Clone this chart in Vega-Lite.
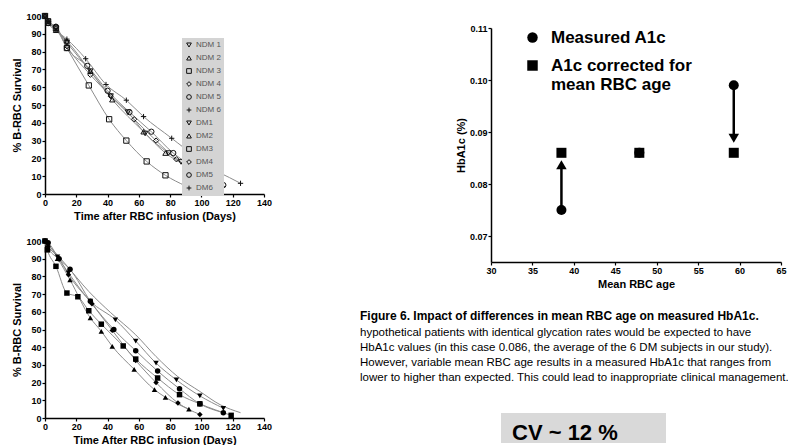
{
  "$schema": "https://vega.github.io/schema/vega-lite/v6.json",
  "background": "white",
  "padding": {"left": 11, "top": 11, "right": 0, "bottom": 0},
  "spacing": 88,
  "datasets": {
    "ndm": [
      {"series": "NDM 1", "day": 0, "survival": 100}, {"series": "NDM 1", "day": 2, "survival": 97}, {"series": "NDM 1", "day": 7, "survival": 93}, {"series": "NDM 1", "day": 14, "survival": 85}, {"series": "NDM 1", "day": 29, "survival": 69}, {"series": "NDM 1", "day": 42, "survival": 55}, {"series": "NDM 1", "day": 53, "survival": 46}, {"series": "NDM 1", "day": 64, "survival": 34}, {"series": "NDM 1", "day": 79, "survival": 23}, {"series": "NDM 1", "day": 87, "survival": 18}, {"series": "NDM 1", "day": 93, "survival": 14}, {"series": "NDM 1", "day": 100, "survival": 9}, {"series": "NDM 1", "day": 107, "survival": 6}, {"series": "NDM 1", "day": 113, "survival": 3},
      {"series": "NDM 2", "day": 0, "survival": 100}, {"series": "NDM 2", "day": 2, "survival": 96}, {"series": "NDM 2", "day": 7, "survival": 92}, {"series": "NDM 2", "day": 14, "survival": 86}, {"series": "NDM 2", "day": 29, "survival": 69}, {"series": "NDM 2", "day": 43, "survival": 53}, {"series": "NDM 2", "day": 63, "survival": 35}, {"series": "NDM 2", "day": 77, "survival": 23}, {"series": "NDM 2", "day": 90, "survival": 15.5}, {"series": "NDM 2", "day": 98, "survival": 9.5}, {"series": "NDM 2", "day": 106, "survival": 6}, {"series": "NDM 2", "day": 112, "survival": 4},
      {"series": "NDM 3", "day": 0, "survival": 100}, {"series": "NDM 3", "day": 2, "survival": 97}, {"series": "NDM 3", "day": 7, "survival": 93}, {"series": "NDM 3", "day": 14, "survival": 82}, {"series": "NDM 3", "day": 28, "survival": 61}, {"series": "NDM 3", "day": 41, "survival": 42}, {"series": "NDM 3", "day": 52, "survival": 30}, {"series": "NDM 3", "day": 65, "survival": 18.3}, {"series": "NDM 3", "day": 77, "survival": 10.5}, {"series": "NDM 3", "day": 90, "survival": 4.5},
      {"series": "NDM 4", "day": 0, "survival": 100}, {"series": "NDM 4", "day": 2, "survival": 97}, {"series": "NDM 4", "day": 7, "survival": 94}, {"series": "NDM 4", "day": 14, "survival": 83}, {"series": "NDM 4", "day": 29, "survival": 67}, {"series": "NDM 4", "day": 42, "survival": 55}, {"series": "NDM 4", "day": 57, "survival": 42}, {"series": "NDM 4", "day": 71, "survival": 30}, {"series": "NDM 4", "day": 84, "survival": 19.5}, {"series": "NDM 4", "day": 96, "survival": 13}, {"series": "NDM 4", "day": 104, "survival": 8.5}, {"series": "NDM 4", "day": 112, "survival": 5},
      {"series": "NDM 5", "day": 0, "survival": 100}, {"series": "NDM 5", "day": 2, "survival": 96}, {"series": "NDM 5", "day": 7, "survival": 94}, {"series": "NDM 5", "day": 14, "survival": 82}, {"series": "NDM 5", "day": 27, "survival": 72}, {"series": "NDM 5", "day": 40, "survival": 58}, {"series": "NDM 5", "day": 54, "survival": 46}, {"series": "NDM 5", "day": 68, "survival": 35}, {"series": "NDM 5", "day": 82, "survival": 23}, {"series": "NDM 5", "day": 95, "survival": 15}, {"series": "NDM 5", "day": 103, "survival": 10}, {"series": "NDM 5", "day": 110, "survival": 6}, {"series": "NDM 5", "day": 114, "survival": 5},
      {"series": "NDM 6", "day": 0, "survival": 100}, {"series": "NDM 6", "day": 2, "survival": 97}, {"series": "NDM 6", "day": 7, "survival": 92}, {"series": "NDM 6", "day": 14, "survival": 87}, {"series": "NDM 6", "day": 26, "survival": 76}, {"series": "NDM 6", "day": 39, "survival": 61.5}, {"series": "NDM 6", "day": 52, "survival": 52.7}, {"series": "NDM 6", "day": 63, "survival": 43.5}, {"series": "NDM 6", "day": 81, "survival": 31.3}, {"series": "NDM 6", "day": 95, "survival": 21.5}, {"series": "NDM 6", "day": 102.5, "survival": 15.5}, {"series": "NDM 6", "day": 111, "survival": 12.2}, {"series": "NDM 6", "day": 125, "survival": 6}
    ],
    "dm": [
      {"series": "DM1", "day": 0, "survival": 100}, {"series": "DM1", "day": 2, "survival": 98}, {"series": "DM1", "day": 8, "survival": 91}, {"series": "DM1", "day": 15, "survival": 82}, {"series": "DM1", "day": 29, "survival": 66}, {"series": "DM1", "day": 45, "survival": 55.5}, {"series": "DM1", "day": 58, "survival": 43.5}, {"series": "DM1", "day": 71, "survival": 31}, {"series": "DM1", "day": 84, "survival": 21.5}, {"series": "DM1", "day": 99, "survival": 12.5}, {"series": "DM1", "day": 114, "survival": 5.5},
      {"series": "DM2", "day": 0, "survival": 100}, {"series": "DM2", "day": 2, "survival": 96}, {"series": "DM2", "day": 8, "survival": 90}, {"series": "DM2", "day": 16, "survival": 78}, {"series": "DM2", "day": 29, "survival": 56.5}, {"series": "DM2", "day": 36, "survival": 49}, {"series": "DM2", "day": 43, "survival": 40.5}, {"series": "DM2", "day": 57, "survival": 27.5}, {"series": "DM2", "day": 70, "survival": 16}, {"series": "DM2", "day": 77, "survival": 11.7}, {"series": "DM2", "day": 92, "survival": 5},
      {"series": "DM3", "day": 0, "survival": 100}, {"series": "DM3", "day": 1.5, "survival": 95}, {"series": "DM3", "day": 7, "survival": 85.7}, {"series": "DM3", "day": 14, "survival": 70.6}, {"series": "DM3", "day": 21, "survival": 68.5}, {"series": "DM3", "day": 28, "survival": 60.6}, {"series": "DM3", "day": 36, "survival": 53}, {"series": "DM3", "day": 50, "survival": 40.7}, {"series": "DM3", "day": 58, "survival": 33.3}, {"series": "DM3", "day": 72, "survival": 22.6}, {"series": "DM3", "day": 86, "survival": 13.2}, {"series": "DM3", "day": 99, "survival": 8}, {"series": "DM3", "day": 119, "survival": 1.5},
      {"series": "DM4", "day": 0, "survival": 100}, {"series": "DM4", "day": 2, "survival": 97}, {"series": "DM4", "day": 9, "survival": 90}, {"series": "DM4", "day": 15, "survival": 81}, {"series": "DM4", "day": 30, "survival": 64.5}, {"series": "DM4", "day": 43, "survival": 49.5}, {"series": "DM4", "day": 58, "survival": 32.5}, {"series": "DM4", "day": 71, "survival": 20}, {"series": "DM4", "day": 85, "survival": 8.5}, {"series": "DM4", "day": 99, "survival": 2},
      {"series": "DM5", "day": 0, "survival": 100}, {"series": "DM5", "day": 2, "survival": 99}, {"series": "DM5", "day": 9, "survival": 90}, {"series": "DM5", "day": 16, "survival": 84}, {"series": "DM5", "day": 29, "survival": 66}, {"series": "DM5", "day": 44, "survival": 50}, {"series": "DM5", "day": 58, "survival": 38}, {"series": "DM5", "day": 72, "survival": 26.5}, {"series": "DM5", "day": 86, "survival": 16.5}, {"series": "DM5", "day": 99, "survival": 8}, {"series": "DM5", "day": 114, "survival": 3},
      {"series": "DM6", "day": 0, "survival": 100}, {"series": "DM6", "day": 2, "survival": 98}, {"series": "DM6", "day": 13, "survival": 87}, {"series": "DM6", "day": 28, "survival": 71.5}, {"series": "DM6", "day": 42, "survival": 59.5}, {"series": "DM6", "day": 58, "survival": 47}, {"series": "DM6", "day": 71, "survival": 34.7}, {"series": "DM6", "day": 85, "survival": 23.3}, {"series": "DM6", "day": 99, "survival": 15}, {"series": "DM6", "day": 112, "survival": 7.5}, {"series": "DM6", "day": 125, "survival": 3}
    ],
    "hba1c": [
      {"age": 38.5, "hba1c": 0.086, "type": "A1c corrected for mean RBC age"},
      {"age": 47.9, "hba1c": 0.086, "type": "A1c corrected for mean RBC age"},
      {"age": 59.3, "hba1c": 0.086, "type": "A1c corrected for mean RBC age"},
      {"age": 38.5, "hba1c": 0.075, "type": "Measured A1c"},
      {"age": 47.9, "hba1c": 0.086, "type": "Measured A1c"},
      {"age": 59.3, "hba1c": 0.099, "type": "Measured A1c"}
    ],
    "arrows": [
      {"age": 38.5, "start": 0.075, "end": 0.0837, "direction": "up"},
      {"age": 59.3, "start": 0.099, "end": 0.0888, "direction": "down"}
    ]
  },
  "hconcat": [
    {
      "vconcat": [
        {
          "width": 219,
          "height": 178,
          "data": {"name": "ndm"},
          "encoding": {
            "x": {"field": "day", "type": "quantitative", "scale": {"domain": [0, 140], "nice": false}, "axis": {"title": "Time after RBC infusion (Days)", "values": [0, 20, 40, 60, 80, 100, 120, 140]}},
            "y": {"field": "survival", "type": "quantitative", "scale": {"domain": [0, 100], "nice": false}, "axis": {"title": "% B-RBC Survival", "values": [0, 10, 20, 30, 40, 50, 60, 70, 80, 90, 100]}}
          },
          "layer": [
            {"mark": {"type": "line", "color": "#8c8c8c", "strokeWidth": 1, "interpolate": "monotone"}, "encoding": {"detail": {"field": "series", "type": "nominal"}}},
            {
              "mark": {"type": "point", "filled": false, "color": "#111111", "strokeWidth": 1, "size": 28, "opacity": 1},
              "encoding": {
                "shape": {
                  "field": "series", "type": "nominal",
                  "scale": {"domain": ["NDM 1", "NDM 2", "NDM 3", "NDM 4", "NDM 5", "NDM 6"], "range": ["triangle-down", "triangle-up", "square", "diamond", "circle", "M-1,0H1M0,-1V1"]},
                  "legend": {"orient": "none", "legendX": 137, "legendY": 22, "title": null, "fillColor": "#d4d4d4", "padding": 3, "symbolSize": 22, "symbolStrokeWidth": 1, "labelFontSize": 8, "labelFont": "Liberation Sans", "labelFontWeight": "normal", "labelColor": "#555555", "rowPadding": 3, "labelOffset": 3}
                }
              }
            }
          ]
        },
        {
          "width": 219,
          "height": 177,
          "data": {"name": "dm"},
          "encoding": {
            "x": {"field": "day", "type": "quantitative", "scale": {"domain": [0, 140], "nice": false}, "axis": {"title": "Time After RBC infusion (Days)", "values": [0, 20, 40, 60, 80, 100, 120, 140]}},
            "y": {"field": "survival", "type": "quantitative", "scale": {"domain": [0, 100], "nice": false}, "axis": {"title": "% B-RBC Survival", "values": [0, 10, 20, 30, 40, 50, 60, 70, 80, 90, 100]}}
          },
          "layer": [
            {"mark": {"type": "line", "color": "#8c8c8c", "strokeWidth": 1, "interpolate": "monotone"}, "encoding": {"detail": {"field": "series", "type": "nominal"}}},
            {
              "mark": {"type": "point", "filled": true, "color": "#000000", "size": 30, "opacity": 1},
              "encoding": {
                "shape": {
                  "field": "series", "type": "nominal",
                  "scale": {"domain": ["DM1", "DM2", "DM3", "DM4", "DM5", "DM6"], "range": ["triangle-down", "triangle-up", "square", "diamond", "circle", "star"]},
                  "legend": {"orient": "none", "legendX": 152, "legendY": 34, "title": null, "fillColor": "#d4d4d4", "padding": 3, "symbolSize": 24, "labelFontSize": 8, "labelFont": "Liberation Sans", "labelFontWeight": "normal", "labelColor": "#555555", "rowPadding": 3, "labelOffset": 3}
                }
              }
            }
          ]
        }
      ],
      "spacing": 16
    },
    {
      "vconcat": [
        {
          "vconcat": [
            {"width": 1, "height": 8, "data": {"values": []}, "mark": {"type": "point"}, "encoding": {}},
            {
              "width": 290,
              "height": 234,
              "title": {
                "text": "Figure 6. Impact of differences in mean RBC age on measured HbA1c.",
                "subtitle": [
                  "hypothetical patients with identical glycation rates would be expected to have",
                  "HbA1c values (in this case 0.086, the average of the 6 DM subjects in our study).",
                  "However, variable mean RBC age results in a measured HbA1c that ranges from",
                  "lower to higher than expected. This could lead to inappropriate clinical management."
                ],
                "orient": "bottom", "anchor": "start", "frame": "group", "dx": -131, "offset": 22,
                "font": "Liberation Sans", "fontSize": 12, "fontWeight": "bold", "color": "black",
                "subtitleFont": "Liberation Sans", "subtitleFontSize": 11.5, "subtitleFontWeight": "normal", "subtitleColor": "black",
                "subtitleLineHeight": 15, "subtitlePadding": 4
              },
              "layer": [
                {
                  "data": {"name": "arrows"},
                  "mark": {"type": "rule", "strokeWidth": 2.5, "color": "black"},
                  "encoding": {
                    "x": {"field": "age", "type": "quantitative", "scale": {"domain": [30, 65], "nice": false, "zero": false}, "axis": {"title": "Mean RBC age", "values": [30, 35, 40, 45, 50, 55, 60, 65]}},
                    "y": {"field": "start", "type": "quantitative", "scale": {"domain": [0.065, 0.11], "nice": false, "zero": false}, "axis": {"title": "HbA1c (%)", "values": [0.07, 0.08, 0.09, 0.1, 0.11], "format": ".2f"}},
                    "y2": {"field": "end"}
                  }
                },
                {
                  "data": {"name": "arrows"},
                  "mark": {"type": "point", "filled": true, "color": "black", "size": 110, "opacity": 1},
                  "encoding": {
                    "x": {"field": "age", "type": "quantitative"},
                    "y": {"field": "end", "type": "quantitative", "axis": {"title": "HbA1c (%)"}},
                    "shape": {"field": "direction", "type": "nominal", "scale": {"domain": ["up", "down"], "range": ["triangle-up", "triangle-down"]}, "legend": null}
                  }
                },
                {
                  "data": {"name": "hba1c"},
                  "mark": {"type": "point", "filled": true, "color": "black", "size": 100, "opacity": 1},
                  "encoding": {
                    "x": {"field": "age", "type": "quantitative"},
                    "y": {"field": "hba1c", "type": "quantitative", "axis": {"title": "HbA1c (%)"}},
                    "shape": {
                      "field": "type", "type": "nominal",
                      "scale": {"domain": ["Measured A1c", "A1c corrected for mean RBC age"], "range": ["circle", "square"]},
                      "legend": {"orient": "none", "legendX": 33, "legendY": 1, "title": null, "symbolSize": 110, "labelFontSize": 17, "labelFont": "Liberation Sans", "labelFontWeight": "bold", "labelColor": "black", "labelOffset": 10, "rowPadding": 10, "labelLimit": 400,
                        "labelExpr": "datum.label == 'A1c corrected for mean RBC age' ? ['A1c corrected for', 'mean RBC age'] : datum.label"}
                    }
                  }
                }
              ],
              "resolve": {"scale": {"shape": "independent"}},
              "config": {}
            }
          ],
          "spacing": 0
        },
        {
          "hconcat": [
            {"width": 1, "height": 1, "data": {"values": []}, "mark": {"type": "point"}, "encoding": {}},
            {
              "width": 165,
              "height": 30,
              "view": {"fill": "#d9d9d9", "stroke": null},
              "data": {"values": [{"label": "CV ~ 12 %"}]},
              "mark": {"type": "text", "align": "left", "baseline": "alphabetic", "font": "Liberation Sans", "fontWeight": "bold", "fontSize": 22, "color": "black", "dx": 11, "dy": 27},
              "encoding": {"text": {"field": "label", "type": "nominal"}, "x": {"value": 0}, "y": {"value": 0}}
            }
          ],
          "spacing": 9
        }
      ],
      "spacing": 29
    }
  ],
  "config": {
    "view": {"stroke": null},
    "font": "Liberation Sans",
    "axis": {
      "grid": false, "domainColor": "black", "tickColor": "black", "labelColor": "black", "titleColor": "black",
      "labelFont": "Liberation Sans", "titleFont": "Liberation Sans", "labelFontWeight": "bold", "titleFontWeight": "bold",
      "labelFontSize": 9, "titleFontSize": 11, "tickSize": 3, "labelPadding": 1, "titlePadding": 3, "domainWidth": 1.5, "tickWidth": 1.2, "labelFlush": false, "labelOverlap": false
    }
  }
}
